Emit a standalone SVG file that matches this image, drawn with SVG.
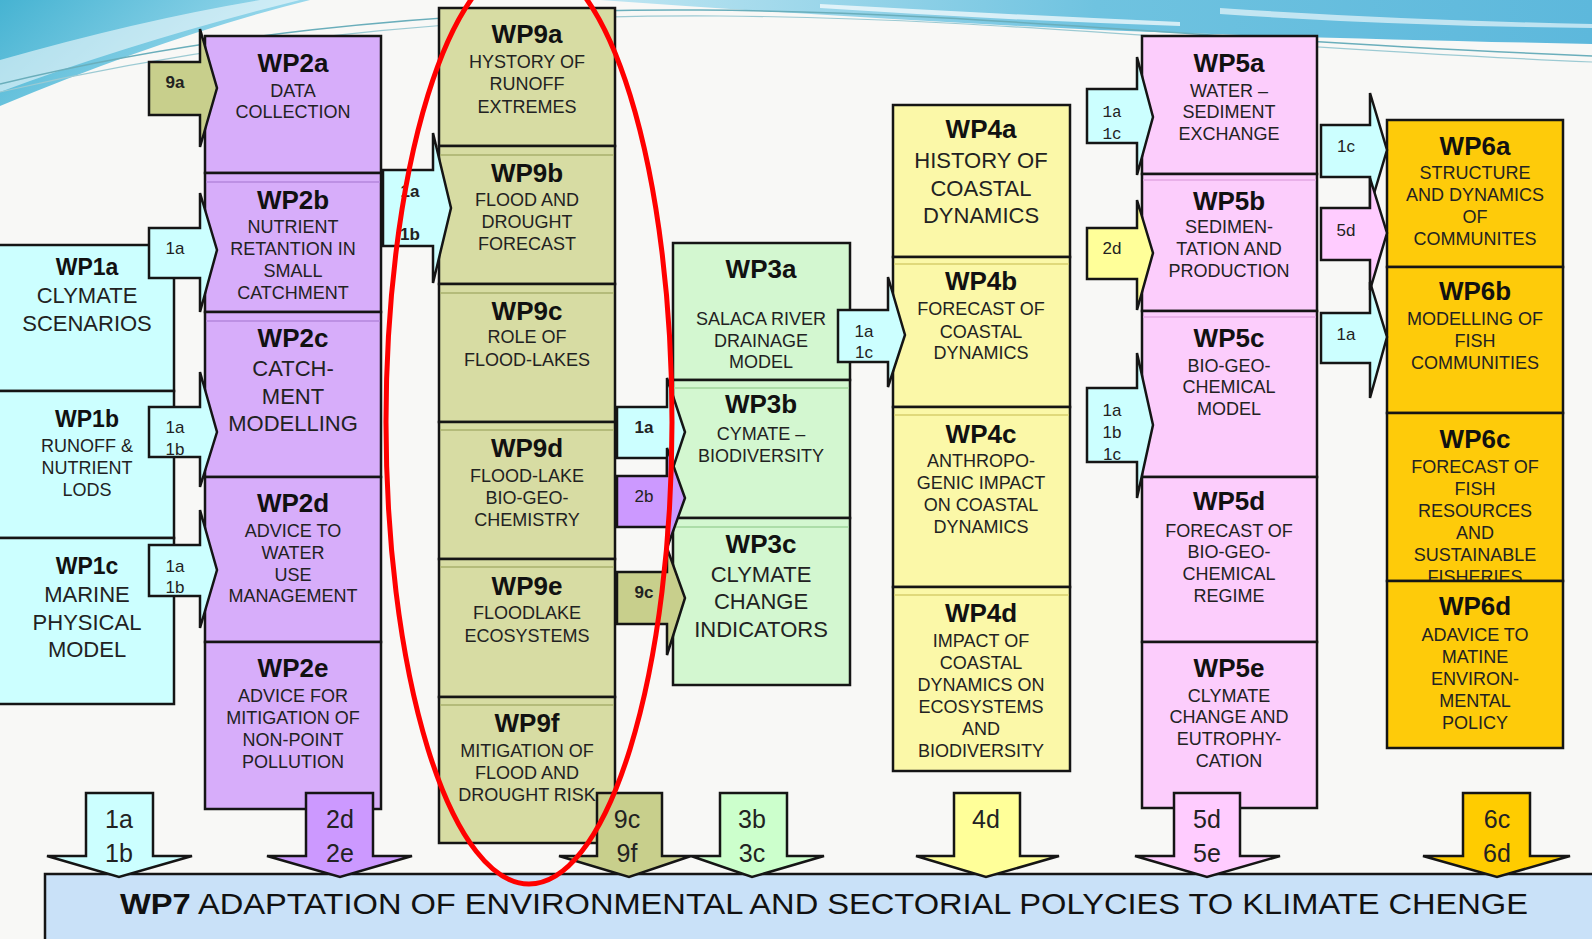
<svg xmlns="http://www.w3.org/2000/svg" width="1592" height="939" viewBox="0 0 1592 939">
<defs>
<linearGradient id="gTL" x1="0" y1="0" x2="1" y2="0.4">
<stop offset="0" stop-color="#46b3d2"/><stop offset="1" stop-color="#a6def0"/>
</linearGradient>
<linearGradient id="gTR" x1="0" y1="0" x2="1" y2="0">
<stop offset="0" stop-color="#bfe6f2"/><stop offset="0.5" stop-color="#6fc3e0"/><stop offset="1" stop-color="#5db8dc"/>
</linearGradient>
<style>
.box{stroke:#151515;stroke-width:2.5}
.c1{fill:#ccffff}.c2{fill:#d7adfa}.c9{fill:#d7dca3}.c3{fill:#d3f7d0}.c4{fill:#fbf8a8}.c5{fill:#fccdfc}.c6{fill:#fecb0a}.c7{fill:#c9e1f8}
.ar{stroke:#151515;stroke-width:2.5;stroke-linejoin:miter}
.aCy{fill:#ccffff}.aPu{fill:#cc99ff}.aOl{fill:#c8cf8c}.aGr{fill:#ccffcc}.aYe{fill:#ffff99}.aPi{fill:#ffccff}.aOr{fill:#ffcc00}
.in2{stroke:#b487dc;stroke-width:1.5}.in9{stroke:#a9b06c;stroke-width:1.5}.in3{stroke:#9fd49b;stroke-width:1.5}.in4{stroke:#d7cf6c;stroke-width:1.5}.in5{stroke:#e3a6e3;stroke-width:1.5}
text{font-family:"Liberation Sans",Arial,sans-serif;text-anchor:middle;fill:#222}
.t{font-weight:bold;font-size:26px;fill:#111}
.t1{font-weight:bold;font-size:23px;fill:#111}
.b{font-size:18px}
.bl{font-size:22px}
.al{font-size:17px}
.alb{font-size:17px;font-weight:bold}
.mono{font-family:"Liberation Mono","DejaVu Sans Mono",monospace;font-size:16px}
.bot{font-size:25px}
</style>
</defs>
<rect x="0" y="0" width="1592" height="939" fill="#f8f8f6"/>
<g id="banner">
<path d="M0,0 L310,0 Q170,35 0,106 Z" fill="url(#gTL)"/>
<path d="M0,60 Q140,20 260,0 L300,0 Q140,40 0,92 Z" fill="#ffffff" opacity="0.55"/>
<path d="M600,0 L1592,0 L1592,44 Q1300,38 1100,30 Q850,18 600,0 Z" fill="url(#gTR)"/>
<path d="M820,4 Q1000,14 1180,22 L1180,26 Q1000,20 820,8 Z" fill="#ffffff" opacity="0.7"/>
<path d="M1220,8 Q1400,20 1592,24 L1592,28 Q1400,26 1220,14 Z" fill="#ffffff" opacity="0.6"/>
<path d="M0,84 C180,40 420,8 700,10 S1200,40 1592,56" fill="none" stroke="#6aaebb" stroke-width="1.5"/>
<path d="M0,92 C200,46 440,14 720,16 S1220,46 1592,62" fill="none" stroke="#9ccad3" stroke-width="1.2"/>
</g>
<g id="WP1a"><rect class="box c1" x="-5" y="245" width="179" height="146"/>
<text class="t1" x="87" y="275">WP1a</text><text class="bl" x="87" y="303">CLYMATE</text><text class="bl" x="87" y="331">SCENARIOS</text></g>
<g id="WP1b"><rect class="box c1" x="-5" y="391" width="179" height="147"/>
<text class="t1" x="87" y="427">WP1b</text><text class="b" x="87" y="452">RUNOFF &amp;</text><text class="b" x="87" y="474">NUTRIENT</text><text class="b" x="87" y="496">LODS</text></g>
<g id="WP1c"><rect class="box c1" x="-5" y="538" width="179" height="166"/>
<text class="t1" x="87" y="574">WP1c</text><text class="bl" x="87" y="602">MARINE</text><text class="bl" x="87" y="630">PHYSICAL</text><text class="bl" x="87" y="657">MODEL</text></g>

<g id="WP2a"><rect class="box c2" x="205" y="36" width="176" height="137"/>
<text class="t" x="293" y="72">WP2a</text><text class="b" x="293" y="97">DATA</text><text class="b" x="293" y="118">COLLECTION</text></g>
<g id="WP2b"><rect class="box c2" x="205" y="173" width="176" height="139"/><line class="in2" x1="206" y1="182" x2="380" y2="182"/>
<text class="t" x="293" y="209">WP2b</text><text class="b" x="293" y="233">NUTRIENT</text><text class="b" x="293" y="255">RETANTION IN</text><text class="b" x="293" y="277">SMALL</text><text class="b" x="293" y="299">CATCHMENT</text></g>
<g id="WP2c"><rect class="box c2" x="205" y="312" width="176" height="165"/><line class="in2" x1="206" y1="321" x2="380" y2="321"/>
<text class="t" x="293" y="347">WP2c</text><text class="bl" x="293" y="376">CATCH-</text><text class="bl" x="293" y="404">MENT</text><text class="bl" x="293" y="431">MODELLING</text></g>
<g id="WP2d"><rect class="box c2" x="205" y="477" width="176" height="165"/>
<text class="t" x="293" y="512">WP2d</text><text class="b" x="293" y="537">ADVICE TO</text><text class="b" x="293" y="559">WATER</text><text class="b" x="293" y="581">USE</text><text class="b" x="293" y="602">MANAGEMENT</text></g>
<g id="WP2e"><rect class="box c2" x="205" y="642" width="176" height="167"/>
<text class="t" x="293" y="677">WP2e</text><text class="b" x="293" y="702">ADVICE FOR</text><text class="b" x="293" y="724">MITIGATION OF</text><text class="b" x="293" y="746">NON-POINT</text><text class="b" x="293" y="768">POLLUTION</text></g>

<g id="WP9a"><rect class="box c9" x="439" y="8" width="176" height="138"/>
<text class="t" x="527" y="43">WP9a</text><text class="b" x="527" y="68">HYSTORY OF</text><text class="b" x="527" y="90">RUNOFF</text><text class="b" x="527" y="113">EXTREMES</text></g>
<g id="WP9b"><rect class="box c9" x="439" y="146" width="176" height="138"/><line class="in9" x1="440" y1="155" x2="614" y2="155"/>
<text class="t" x="527" y="182">WP9b</text><text class="b" x="527" y="206">FLOOD AND</text><text class="b" x="527" y="228">DROUGHT</text><text class="b" x="527" y="250">FORECAST</text></g>
<g id="WP9c"><rect class="box c9" x="439" y="284" width="176" height="138"/><line class="in9" x1="440" y1="293" x2="614" y2="293"/>
<text class="t" x="527" y="320">WP9c</text><text class="b" x="527" y="343">ROLE OF</text><text class="b" x="527" y="366">FLOOD-LAKES</text></g>
<g id="WP9d"><rect class="box c9" x="439" y="422" width="176" height="137"/><line class="in9" x1="440" y1="430" x2="614" y2="430"/>
<text class="t" x="527" y="457">WP9d</text><text class="b" x="527" y="482">FLOOD-LAKE</text><text class="b" x="527" y="504">BIO-GEO-</text><text class="b" x="527" y="526">CHEMISTRY</text></g>
<g id="WP9e"><rect class="box c9" x="439" y="559" width="176" height="138"/><line class="in9" x1="440" y1="567" x2="614" y2="567"/>
<text class="t" x="527" y="595">WP9e</text><text class="b" x="527" y="619">FLOODLAKE</text><text class="b" x="527" y="642">ECOSYSTEMS</text></g>
<g id="WP9f"><rect class="box c9" x="439" y="697" width="176" height="146"/><line class="in9" x1="440" y1="705" x2="614" y2="705"/>
<text class="t" x="527" y="732">WP9f</text><text class="b" x="527" y="757">MITIGATION OF</text><text class="b" x="527" y="779">FLOOD AND</text><text class="b" x="527" y="801">DROUGHT RISK</text></g>

<g id="WP3a"><rect class="box c3" x="673" y="243" width="177" height="137"/>
<text class="t" x="761" y="278">WP3a</text><text class="b" x="761" y="325">SALACA RIVER</text><text class="b" x="761" y="347">DRAINAGE</text><text class="b" x="761" y="368">MODEL</text></g>
<g id="WP3b"><rect class="box c3" x="673" y="380" width="177" height="138"/><line class="in3" x1="674" y1="388" x2="849" y2="388"/>
<text class="t" x="761" y="413">WP3b</text><text class="b" x="761" y="440">CYMATE –</text><text class="b" x="761" y="462">BIODIVERSITY</text></g>
<g id="WP3c"><rect class="box c3" x="673" y="518" width="177" height="167"/><line class="in3" x1="674" y1="527" x2="849" y2="527"/>
<text class="t" x="761" y="553">WP3c</text><text class="bl" x="761" y="582">CLYMATE</text><text class="bl" x="761" y="609">CHANGE</text><text class="bl" x="761" y="637">INDICATORS</text></g>

<g id="WP4a"><rect class="box c4" x="893" y="105" width="177" height="152"/>
<text class="t" x="981" y="138">WP4a</text><text class="bl" x="981" y="168">HISTORY OF</text><text class="bl" x="981" y="196">COASTAL</text><text class="bl" x="981" y="223">DYNAMICS</text></g>
<g id="WP4b"><rect class="box c4" x="893" y="257" width="177" height="150"/><line class="in4" x1="894" y1="264" x2="1069" y2="264"/>
<text class="t" x="981" y="290">WP4b</text><text class="b" x="981" y="315">FORECAST OF</text><text class="b" x="981" y="338">COASTAL</text><text class="b" x="981" y="359">DYNAMICS</text></g>
<g id="WP4c"><rect class="box c4" x="893" y="407" width="177" height="180"/><line class="in4" x1="894" y1="415" x2="1069" y2="415"/>
<text class="t" x="981" y="443">WP4c</text><text class="b" x="981" y="467">ANTHROPO-</text><text class="b" x="981" y="489">GENIC IMPACT</text><text class="b" x="981" y="511">ON COASTAL</text><text class="b" x="981" y="533">DYNAMICS</text></g>
<g id="WP4d"><rect class="box c4" x="893" y="587" width="177" height="184"/><line class="in4" x1="894" y1="595" x2="1069" y2="595"/>
<text class="t" x="981" y="622">WP4d</text><text class="b" x="981" y="647">IMPACT OF</text><text class="b" x="981" y="669">COASTAL</text><text class="b" x="981" y="691">DYNAMICS ON</text><text class="b" x="981" y="713">ECOSYSTEMS</text><text class="b" x="981" y="735">AND</text><text class="b" x="981" y="757">BIODIVERSITY</text></g>

<g id="WP5a"><rect class="box c5" x="1142" y="36" width="175" height="138"/>
<text class="t" x="1229" y="72">WP5a</text><text class="b" x="1229" y="97">WATER –</text><text class="b" x="1229" y="118">SEDIMENT</text><text class="b" x="1229" y="140">EXCHANGE</text></g>
<g id="WP5b"><rect class="box c5" x="1142" y="174" width="175" height="137"/><line class="in5" x1="1143" y1="180" x2="1316" y2="180"/>
<text class="t" x="1229" y="210">WP5b</text><text class="b" x="1229" y="233">SEDIMEN-</text><text class="b" x="1229" y="255">TATION AND</text><text class="b" x="1229" y="277">PRODUCTION</text></g>
<g id="WP5c"><rect class="box c5" x="1142" y="311" width="175" height="166"/><line class="in5" x1="1143" y1="317" x2="1316" y2="317"/>
<text class="t" x="1229" y="347">WP5c</text><text class="b" x="1229" y="372">BIO-GEO-</text><text class="b" x="1229" y="393">CHEMICAL</text><text class="b" x="1229" y="415">MODEL</text></g>
<g id="WP5d"><rect class="box c5" x="1142" y="477" width="175" height="165"/>
<text class="t" x="1229" y="510">WP5d</text><text class="b" x="1229" y="537">FORECAST OF</text><text class="b" x="1229" y="558">BIO-GEO-</text><text class="b" x="1229" y="580">CHEMICAL</text><text class="b" x="1229" y="602">REGIME</text></g>
<g id="WP5e"><rect class="box c5" x="1142" y="642" width="175" height="166"/>
<text class="t" x="1229" y="677">WP5e</text><text class="b" x="1229" y="702">CLYMATE</text><text class="b" x="1229" y="723">CHANGE AND</text><text class="b" x="1229" y="745">EUTROPHY-</text><text class="b" x="1229" y="767">CATION</text></g>

<g id="WP6a"><rect class="box c6" x="1387" y="120" width="176" height="147"/>
<text class="t" x="1475" y="155">WP6a</text><text class="b" x="1475" y="179">STRUCTURE</text><text class="b" x="1475" y="201">AND DYNAMICS</text><text class="b" x="1475" y="223">OF</text><text class="b" x="1475" y="245">COMMUNITES</text></g>
<g id="WP6b"><rect class="box c6" x="1387" y="267" width="176" height="146"/>
<text class="t" x="1475" y="300">WP6b</text><text class="b" x="1475" y="325">MODELLING OF</text><text class="b" x="1475" y="347">FISH</text><text class="b" x="1475" y="369">COMMUNITIES</text></g>
<g id="WP6c"><rect class="box c6" x="1387" y="413" width="176" height="168"/>
<text class="t" x="1475" y="448">WP6c</text><text class="b" x="1475" y="473">FORECAST OF</text><text class="b" x="1475" y="495">FISH</text><text class="b" x="1475" y="517">RESOURCES</text><text class="b" x="1475" y="539">AND</text><text class="b" x="1475" y="561">SUSTAINABLE</text><text class="b" x="1475" y="583">FISHERIES</text></g>
<g id="WP6d"><rect class="box c6" x="1387" y="581" width="176" height="167"/>
<text class="t" x="1475" y="615">WP6d</text><text class="b" x="1475" y="641">ADAVICE TO</text><text class="b" x="1475" y="663">MATINE</text><text class="b" x="1475" y="685">ENVIRON-</text><text class="b" x="1475" y="707">MENTAL</text><text class="b" x="1475" y="729">POLICY</text></g>

<g id="WP7"><rect class="box c7" x="45" y="874" width="1560" height="80"/>
<text x="120" y="914" textLength="1408" lengthAdjust="spacingAndGlyphs" style="text-anchor:start;font-size:29px;fill:#111"><tspan font-weight="bold">WP7</tspan> ADAPTATION OF ENVIRONMENTAL AND SECTORIAL POLYCIES TO KLIMATE CHENGE</text></g>

<g id="connectors">
<polygon class="ar aOl" points="149,62 200,62 200,29 217,88 200,147 200,115 149,115"/>
<text class="alb" x="175" y="88">9a</text>
<polygon class="ar aCy" points="149,228 200,228 200,193 217,250 200,312 200,278 149,278"/>
<text class="al" x="175" y="254">1a</text>
<polygon class="ar aCy" points="149,407 200,407 200,372 217,432 200,487 200,457 149,457"/>
<text class="al" x="175" y="433">1a</text><text class="al" x="175" y="455">1b</text>
<polygon class="ar aCy" points="149,545 200,545 200,510 217,570 200,628 200,596 149,596"/>
<text class="al" x="175" y="572">1a</text><text class="al" x="175" y="593">1b</text>

<polygon class="ar aCy" points="383,170 433,170 433,133 451,208 433,283 433,246 383,246"/>
<text class="alb" x="410" y="197">1a</text><text class="alb" x="410" y="240">1b</text>

<polygon class="ar aCy" points="617,407 667,407 667,378 685,432 667,486 667,458 617,458"/>
<text class="alb" x="644" y="433">1a</text>
<polygon class="ar aPu" points="617,476 667,476 667,448 685,498 667,548 667,527 617,527"/>
<text class="al" x="644" y="502">2b</text>
<polygon class="ar aOl" points="617,572 667,572 667,548 685,598 667,655 667,624 617,624"/>
<text class="alb" x="644" y="598">9c</text>

<polygon class="ar aCy" points="838,310 888,310 888,277 905,335 888,387 888,362 838,362"/>
<text class="al" x="864" y="337">1a</text><text class="al" x="864" y="358">1c</text>

<polygon class="ar aCy" points="1087,89 1137,89 1137,57 1153,117 1137,175 1137,143 1087,143"/>
<text class="mono" x="1112" y="117">1a</text><text class="mono" x="1112" y="139">1c</text>
<polygon class="ar aYe" points="1087,228 1137,228 1137,200 1153,253 1137,310 1137,279 1087,279"/>
<text class="al" x="1112" y="254">2d</text>
<polygon class="ar aCy" points="1087,388 1137,388 1137,353 1153,425 1137,498 1137,462 1087,462"/>
<text class="al" x="1112" y="416">1a</text><text class="al" x="1112" y="438">1b</text><text class="al" x="1112" y="460">1c</text>

<polygon class="ar aCy" points="1321,125 1370,125 1370,93 1387,150 1370,207 1370,177 1321,177"/>
<text class="al" x="1346" y="152">1c</text>
<polygon class="ar aPi" points="1321,208 1370,208 1370,178 1387,233 1370,290 1370,260 1321,260"/>
<text class="al" x="1346" y="236">5d</text>
<polygon class="ar aCy" points="1321,313 1370,313 1370,282 1387,337 1370,398 1370,363 1321,363"/>
<text class="al" x="1346" y="340">1a</text>

<polygon class="ar aCy" points="86,793 153,793 153,856 192,856 119,877 47,856 86,856"/>
<text class="bot" x="119" y="828">1a</text><text class="bot" x="119" y="862">1b</text>
<polygon class="ar aPu" points="306,793 373,793 373,856 412,856 340,877 267,856 306,856"/>
<text class="bot" x="340" y="828">2d</text><text class="bot" x="340" y="862">2e</text>
<polygon class="ar aOl" points="597,793 662,793 662,856 691,856 629,877 559,856 597,856"/>
<text class="bot" x="627" y="828">9c</text><text class="bot" x="627" y="862">9f</text>
<polygon class="ar aGr" points="720,793 787,793 787,856 824,856 752,877 691,856 720,856"/>
<text class="bot" x="752" y="828">3b</text><text class="bot" x="752" y="862">3c</text>
<polygon class="ar aYe" points="954,793 1020,793 1020,856 1059,856 986,877 916,856 954,856"/>
<text class="bot" x="986" y="828">4d</text>
<polygon class="ar aPi" points="1174,793 1240,793 1240,856 1280,856 1207,877 1135,856 1174,856"/>
<text class="bot" x="1207" y="828">5d</text><text class="bot" x="1207" y="862">5e</text>
<polygon class="ar aOr" points="1463,793 1530,793 1530,856 1570,856 1497,877 1423,856 1463,856"/>
<text class="bot" x="1497" y="828">6c</text><text class="bot" x="1497" y="862">6d</text>
</g>
<g id="highlight">
<ellipse cx="529" cy="422" rx="143" ry="462" fill="none" stroke="#ff0000" stroke-width="5"/>
</g>
</svg>
